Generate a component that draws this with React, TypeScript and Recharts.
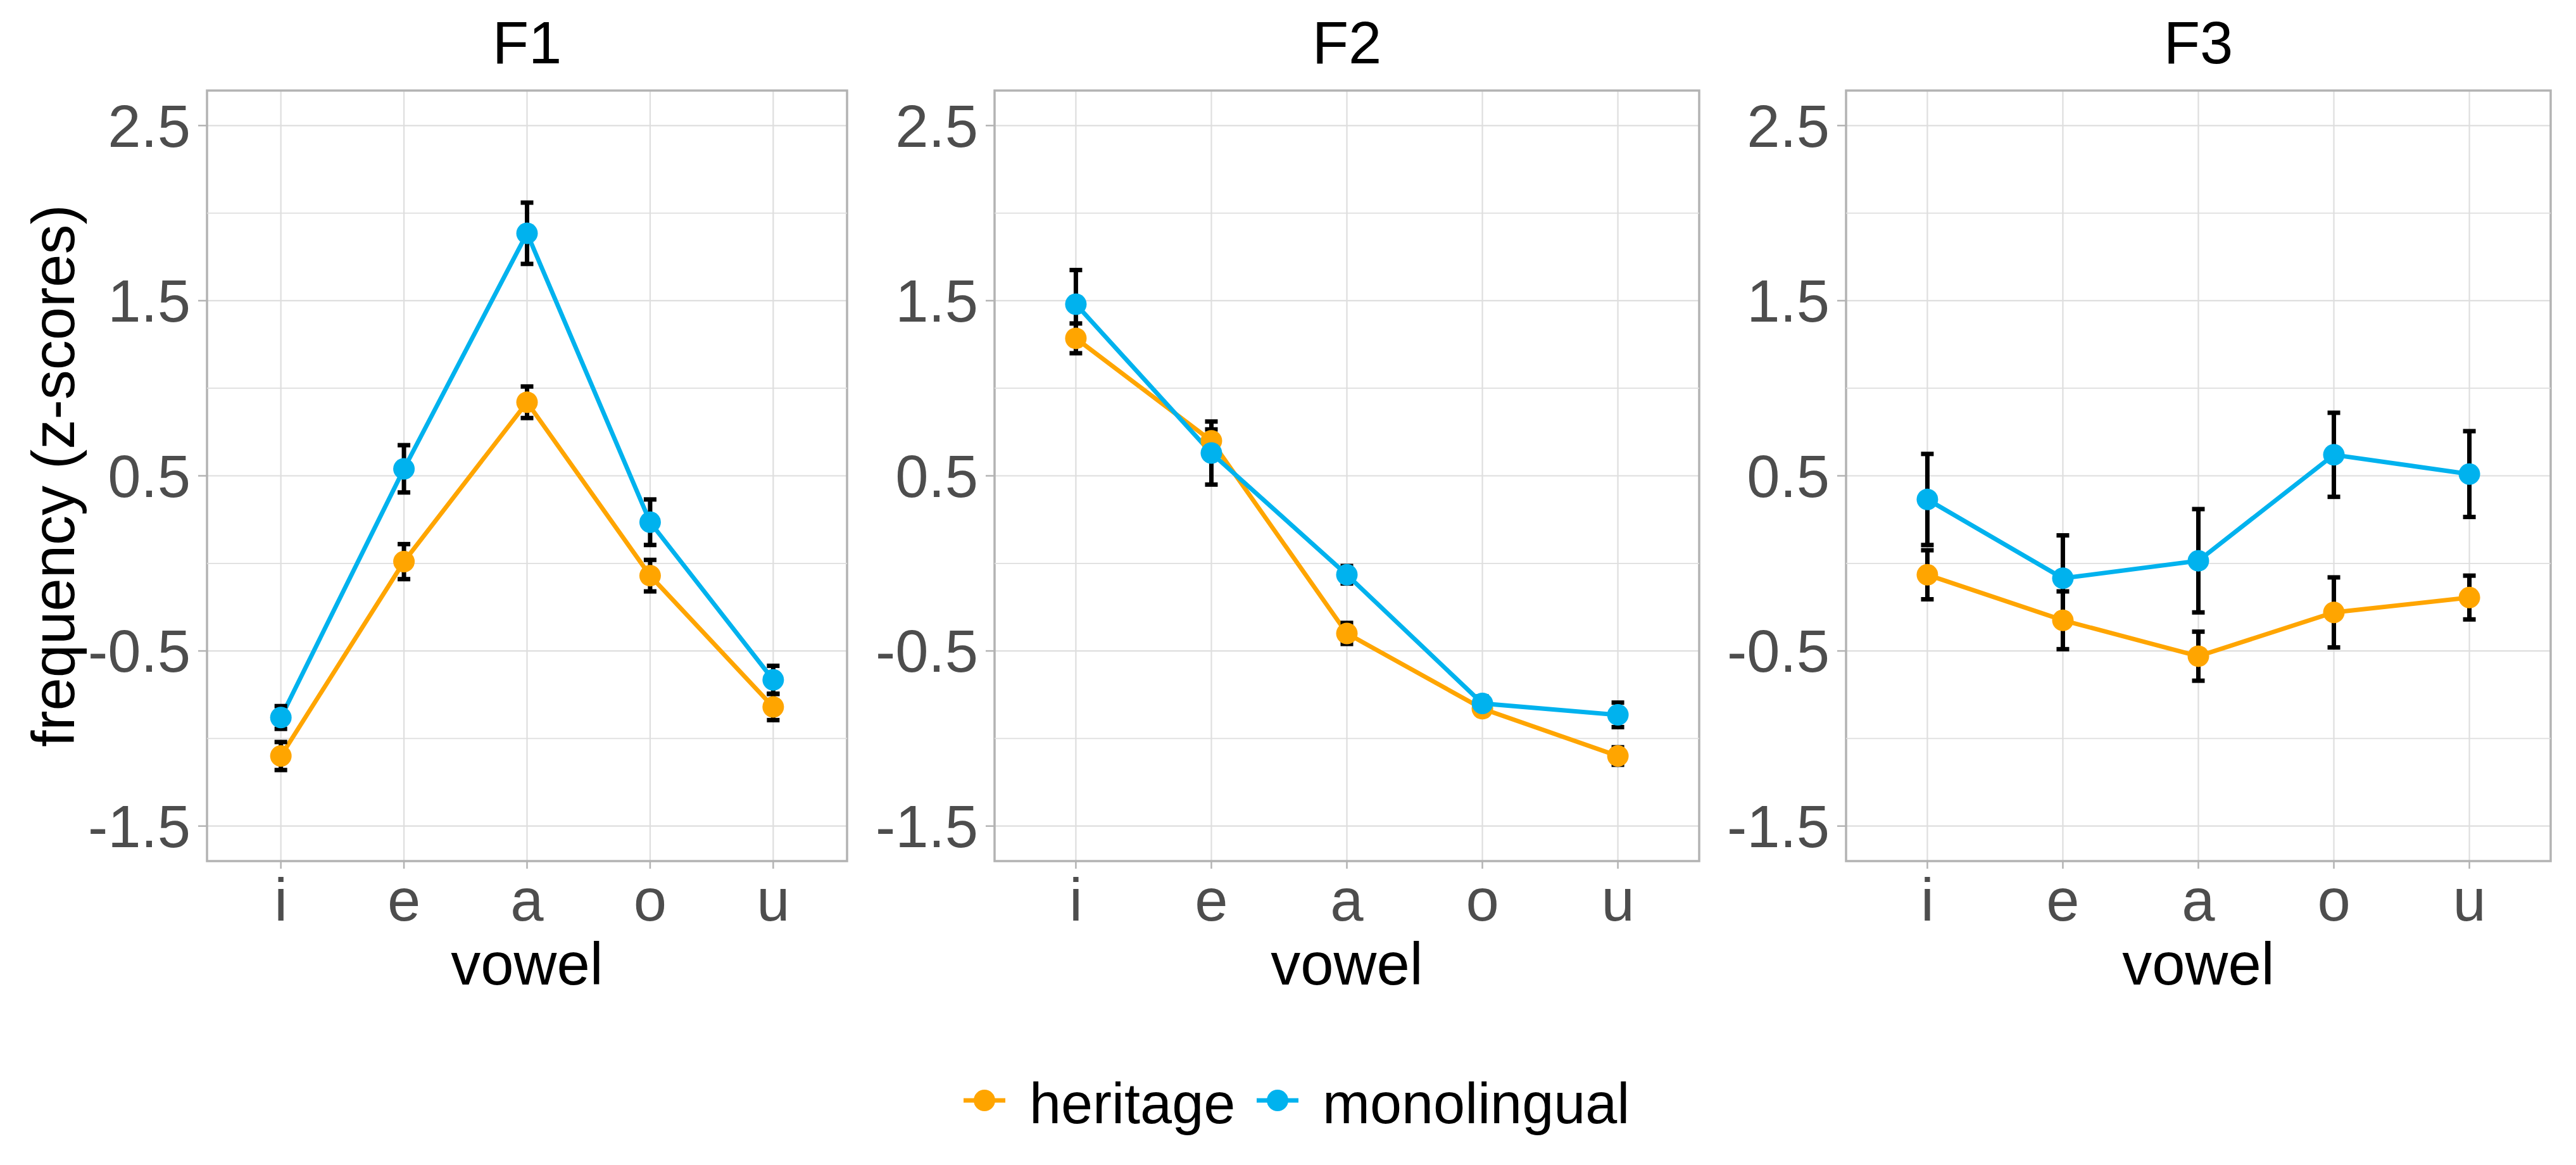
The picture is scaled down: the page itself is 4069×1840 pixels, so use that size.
import React from 'react';
import {
  LineChart,
  Line,
  XAxis,
  YAxis,
  CartesianGrid,
  ErrorBar,
  ReferenceLine,
  ReferenceArea,
} from 'recharts';

// ---------- data ----------
const vowels = ['i', 'e', 'a', 'o', 'u'];
const vowelPos = [1, 2, 3, 4, 5];
const yTicks = [-1.5, -0.5, 0.5, 1.5, 2.5];
const yMinorTicks = [-1, 0, 1, 2];
const formants = ['F1', 'F2', 'F3'];
const groups = ['heritage', 'monolingual'];

const f1Heritage = [-1.1, 0.01, 0.92, -0.07, -0.82];
const f1HeritageErr = [0.08, 0.1, 0.09, 0.09, 0.075];
const f1Mono = [-0.88, 0.54, 1.885, 0.235, -0.665];
const f1MonoErr = [0.065, 0.135, 0.175, 0.13, 0.08];

const f2Heritage = [1.285, 0.7, -0.4, -0.83, -1.1];
const f2HeritageErr = [0.085, 0.065, 0.06, 0.035, 0.05];
const f2Mono = [1.48, 0.63, -0.065, -0.8, -0.865];
const f2MonoErr = [0.195, 0.18, 0.05, 0.04, 0.07];

const f3Heritage = [-0.065, -0.325, -0.53, -0.28, -0.195];
const f3HeritageErr = [0.14, 0.165, 0.14, 0.2, 0.125];
const f3Mono = [0.365, -0.085, 0.015, 0.62, 0.51];
const f3MonoErr = [0.26, 0.245, 0.295, 0.24, 0.245];

// ---------- styling / layout ----------
const FONT = '"Liberation Sans", Arial, Helvetica, sans-serif';
const FS = 94;
const LEGEND_FS = 90;
const COLORS = ['#FFA500', '#00B2EE'];
const GRID = '#DEDEDE';
const BORDER = '#B3B3B3';
const TICK_TEXT = '#4D4D4D';
const LINE_W = 7;
const DOT_R = 17;

const PANEL_TOP = 143;
const PANEL_BOTTOM = 1360;
const Y_AXIS_W = 200;
const X_AXIS_H = 140;
const RIGHT_M = 10;
const panelLefts = [327, 1571, 2916];
const panelWidths = [1011, 1113, 1113];

const buildRows = (her: number[], herErr: number[], mono: number[], monoErr: number[]) =>
  vowelPos.map((x, i) => ({
    x,
    vowel: vowels[i],
    her: her[i],
    herErr: herErr[i],
    mono: mono[i],
    monoErr: monoErr[i],
  }));

const panelData = [
  buildRows(f1Heritage, f1HeritageErr, f1Mono, f1MonoErr),
  buildRows(f2Heritage, f2HeritageErr, f2Mono, f2MonoErr),
  buildRows(f3Heritage, f3HeritageErr, f3Mono, f3MonoErr),
];

function Panel({ idx }: { idx: number }) {
  const data = panelData[idx];
  const pw = panelWidths[idx];
  const width = Y_AXIS_W + pw + RIGHT_M;
  const height = PANEL_BOTTOM + X_AXIS_H;
  return (
    <div style={{ position: 'absolute', left: panelLefts[idx] - Y_AXIS_W, top: 0 }}>
      <LineChart
        width={width}
        height={height}
        data={data}
        margin={{ top: PANEL_TOP, right: RIGHT_M, bottom: 0, left: 0 }}
      >
        <CartesianGrid stroke={GRID} strokeWidth={2.2} />
        {yMinorTicks.map((v) => (
          <ReferenceLine key={v} y={v} stroke={GRID} strokeWidth={1.8} />
        ))}
        <ReferenceArea
          x1={0.4}
          x2={5.6}
          y1={-1.7}
          y2={2.7}
          fill="none"
          fillOpacity={0}
          stroke={BORDER}
          strokeWidth={3.5}
        />
        <XAxis
          type="number"
          dataKey="x"
          domain={[0.4, 5.6]}
          ticks={vowelPos}
          allowDataOverflow
          interval={0}
          height={X_AXIS_H}
          tickFormatter={(v: number) => vowels[v - 1]}
          axisLine={false}
          tickSize={12}
          tickMargin={15}
          tickLine={{ stroke: BORDER, strokeWidth: 2.5 }}
          tick={{ fontSize: FS, fill: TICK_TEXT, fontFamily: FONT }}
        />
        <YAxis
          type="number"
          domain={[-1.7, 2.7]}
          ticks={yTicks}
          allowDataOverflow
          interval={0}
          width={Y_AXIS_W}
          tickFormatter={(v: number) => v.toFixed(1)}
          axisLine={false}
          tickSize={14}
          tickMargin={12}
          tickLine={{ stroke: BORDER, strokeWidth: 2.5 }}
          tick={{ fontSize: FS, fill: TICK_TEXT, fontFamily: FONT }}
        />
        <Line
          type="linear"
          dataKey="her"
          stroke={COLORS[0]}
          strokeWidth={LINE_W}
          dot={{ r: DOT_R, fill: COLORS[0], stroke: COLORS[0], strokeWidth: 0 }}
          activeDot={false}
          isAnimationActive={false}
        />
        <Line
          type="linear"
          dataKey="mono"
          stroke={COLORS[1]}
          strokeWidth={LINE_W}
          dot={{ r: DOT_R, fill: COLORS[1], stroke: COLORS[1], strokeWidth: 0 }}
          activeDot={false}
          isAnimationActive={false}
        />
        <Line
          type="linear"
          dataKey="her"
          stroke="none"
          dot={false}
          activeDot={false}
          legendType="none"
          isAnimationActive={false}
        >
          <ErrorBar dataKey="herErr" direction="y" width={10} strokeWidth={7} stroke="#000" isAnimationActive={false} />
        </Line>
        <Line
          type="linear"
          dataKey="mono"
          stroke="none"
          dot={false}
          activeDot={false}
          legendType="none"
          isAnimationActive={false}
        >
          <ErrorBar dataKey="monoErr" direction="y" width={10} strokeWidth={7} stroke="#000" isAnimationActive={false} />
        </Line>
      </LineChart>
    </div>
  );
}

export default function App() {
  const legendMarkers = [1555, 2018];
  const legendText = [1626, 2089];
  const legendY = 1738;
  return (
    <div
      style={{
        position: 'absolute',
        left: 0,
        top: 0,
        width: 4069,
        height: 1840,
        background: '#fff',
        overflow: 'hidden',
      }}
    >
      {formants.map((_, i) => (
        <Panel key={i} idx={i} />
      ))}
      <svg
        width={4069}
        height={1840}
        style={{ position: 'absolute', left: 0, top: 0, pointerEvents: 'none' }}
      >
        {formants.map((f, i) => {
          const cx = panelLefts[i] + panelWidths[i] / 2;
          return (
            <g key={f}>
              <text x={cx} y={100} textAnchor="middle" fontSize={FS} fontFamily={FONT} fill="#000">
                {f}
              </text>
              <text x={cx} y={1555} textAnchor="middle" fontSize={FS} fontFamily={FONT} fill="#000">
                vowel
              </text>
            </g>
          );
        })}
        <text
          x={117}
          y={(PANEL_TOP + PANEL_BOTTOM) / 2}
          transform={`rotate(-90 117 ${(PANEL_TOP + PANEL_BOTTOM) / 2})`}
          textAnchor="middle"
          fontSize={FS}
          fontFamily={FONT}
          fill="#000"
        >
          frequency (z-scores)
        </text>
        {groups.map((g, i) => (
          <g key={g}>
            <line
              x1={legendMarkers[i] - 33}
              x2={legendMarkers[i] + 33}
              y1={legendY}
              y2={legendY}
              stroke={COLORS[i]}
              strokeWidth={LINE_W}
            />
            <circle cx={legendMarkers[i]} cy={legendY} r={DOT_R} fill={COLORS[i]} />
            <text x={legendText[i]} y={1774} fontSize={LEGEND_FS} fontFamily={FONT} fill="#000">
              {g}
            </text>
          </g>
        ))}
      </svg>
    </div>
  );
}
